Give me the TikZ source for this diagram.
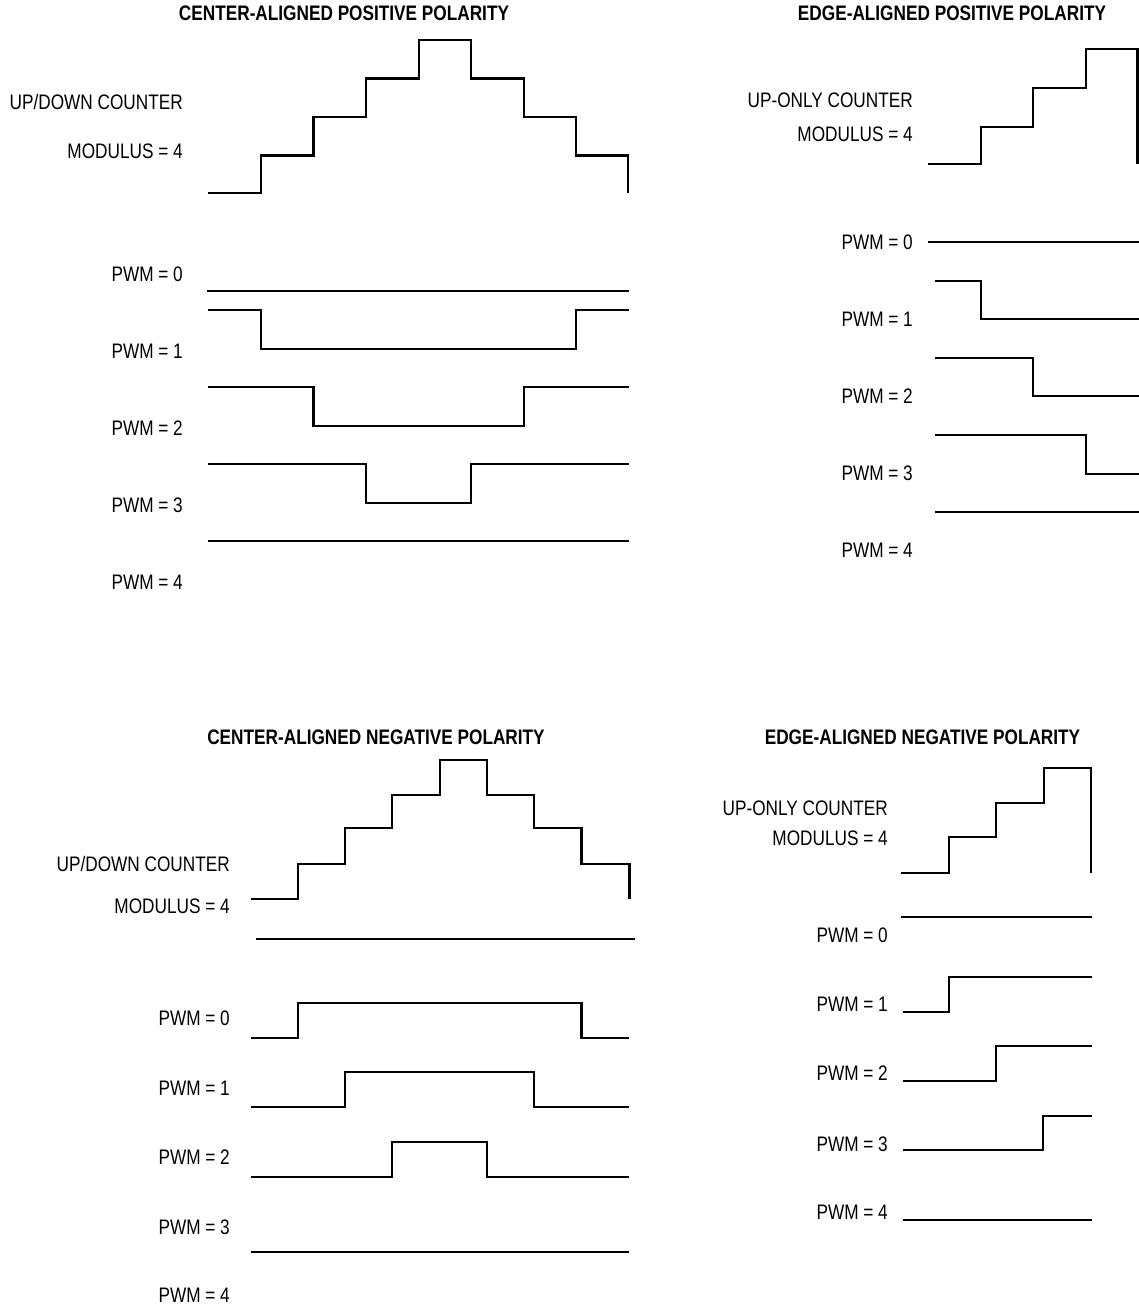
\documentclass[tikz,border=0pt]{standalone}
\usepackage{fontspec}
\setmainfont{Liberation Sans}[FakeStretch=0.82]
\begin{document}
\begin{tikzpicture}[x=1pt,y=-1pt,
  wave/.style={line width=2.2pt, line join=miter},
  lab/.style={anchor=east, inner sep=0pt, text height=15pt, text depth=0pt, font=\fontsize{21}{25}\selectfont},
  ttl/.style={anchor=center, inner sep=0pt, text height=15pt, text depth=0pt, font=\fontsize{21}{25}\selectfont\bfseries}]
\useasboundingbox (0,0) rectangle (1139,1307);

% ---------- Center-aligned positive polarity ----------
\node[ttl] (t1) at (344,13) {CENTER-ALIGNED POSITIVE POLARITY};
\node[lab] (c1a) at (183,102) {UP/DOWN COUNTER};
\node[lab] (c1b) at (183,151) {MODULUS = 4};
\draw[wave] (208,193) -| (261,155.5) -| (313.5,117) -| (366,78.5) -| (419,40) -| (471,78.5) -| (524,117) -| (576,155.5) -| (628,193);
\node[lab] (p10) at (183,274) {PWM = 0};
\node[lab] (p11) at (183,351) {PWM = 1};
\node[lab] (p12) at (183,428) {PWM = 2};
\node[lab] (p13) at (183,505) {PWM = 3};
\node[lab] (p14) at (183,582) {PWM = 4};
\draw[wave] (207,290.7) -- (629,290.7);
\draw[wave] (208,310) -| (261,349) -| (576,310) -- (629,310);
\draw[wave] (208,386.7) -| (313.5,425.7) -| (524,386.7) -- (629,386.7);
\draw[wave] (208,463.7) -| (366,502.7) -| (471,463.7) -- (629,463.7);
\draw[wave] (208,540.7) -- (629,540.7);

% ---------- Edge-aligned positive polarity ----------
\node[ttl] (t2) at (952,13) {EDGE-ALIGNED POSITIVE POLARITY};
\node[lab] (c2a) at (913,100) {UP-ONLY COUNTER};
\node[lab] (c2b) at (913,134) {MODULUS = 4};
\draw[wave] (928,164.3) -| (981,126.7) -| (1033,88) -| (1086,49) -| (1137.5,164.3);
\node[lab] (p20) at (913,242) {PWM = 0};
\node[lab] (p21) at (913,319) {PWM = 1};
\node[lab] (p22) at (913,396) {PWM = 2};
\node[lab] (p23) at (913,473) {PWM = 3};
\node[lab] (p24) at (913,550) {PWM = 4};
\draw[wave] (928,242) -- (1139,242);
\draw[wave] (935,281) -| (981,318.7) -- (1139,318.7);
\draw[wave] (935,357.7) -| (1033,395.7) -- (1139,395.7);
\draw[wave] (935,435) -| (1086,474) -- (1139,474);
\draw[wave] (935,512) -- (1139,512);

% ---------- Center-aligned negative polarity ----------
\node[ttl] (t3) at (376,737) {CENTER-ALIGNED NEGATIVE POLARITY};
\node[lab] (c3a) at (230,864) {UP/DOWN COUNTER};
\node[lab] (c3b) at (230,906) {MODULUS = 4};
\draw[wave] (250.5,898.7) -| (297.6,863.7) -| (345,828.3) -| (392,795) -| (440,760) -| (486.6,795) -| (533.7,828.3) -| (581.5,863.7) -| (629.4,898.7);
\draw[wave] (256,938.7) -- (635,938.7);
\node[lab] (p30) at (230,1018) {PWM = 0};
\node[lab] (p31) at (230,1088) {PWM = 1};
\node[lab] (p32) at (230,1157) {PWM = 2};
\node[lab] (p33) at (230,1227) {PWM = 3};
\node[lab] (p34) at (230,1295) {PWM = 4};
\draw[wave] (250.5,1037.7) -| (297.6,1003.3) -| (581.5,1037.7) -- (629.4,1037.7);
\draw[wave] (250.5,1106.7) -| (345,1071.7) -| (533.7,1106.7) -- (629.4,1106.7);
\draw[wave] (250.5,1176.7) -| (392,1142) -| (486.6,1176.7) -- (629.4,1176.7);
\draw[wave] (250.5,1252.3) -- (629.4,1252.3);

% ---------- Edge-aligned negative polarity ----------
\node[ttl] (t4) at (922.5,737) {EDGE-ALIGNED NEGATIVE POLARITY};
\node[lab] (c4a) at (888,808) {UP-ONLY COUNTER};
\node[lab] (c4b) at (888,838) {MODULUS = 4};
\draw[wave] (901,872.7) -| (949,837.3) -| (995.7,802.7) -| (1043.7,768) -| (1090.7,872.7);
\node[lab] (p40) at (888,935) {PWM = 0};
\node[lab] (p41) at (888,1004) {PWM = 1};
\node[lab] (p42) at (888,1073) {PWM = 2};
\node[lab] (p43) at (888,1144) {PWM = 3};
\node[lab] (p44) at (888,1212) {PWM = 4};
\draw[wave] (901,916.7) -- (1091.7,916.7);
\draw[wave] (903.3,1011.7) -| (949,976.7) -- (1091.7,976.7);
\draw[wave] (903.3,1080.7) -| (995.7,1046) -- (1091.7,1046);
\draw[wave] (903.3,1149.7) -| (1043,1116) -- (1091.7,1116);
\draw[wave] (903.3,1219.7) -- (1091.7,1219.7);
\end{tikzpicture}
\end{document}
